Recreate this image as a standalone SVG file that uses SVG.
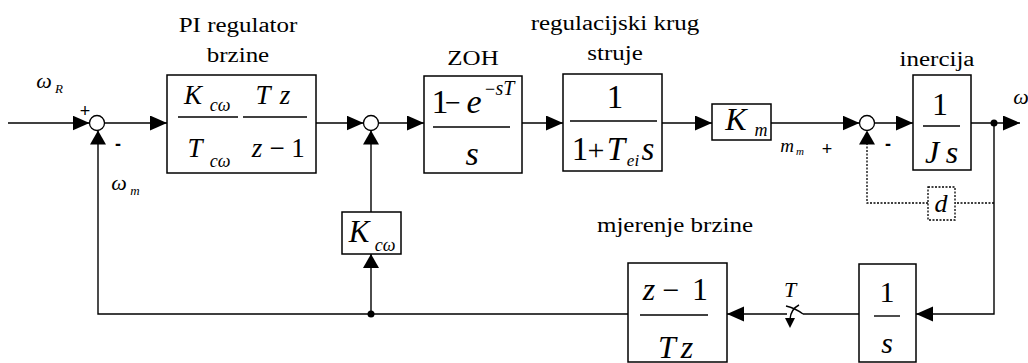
<svg xmlns="http://www.w3.org/2000/svg" width="1028" height="363" viewBox="0 0 1028 363">
<defs>
<marker id="ah" markerUnits="userSpaceOnUse" markerWidth="18" markerHeight="16" refX="17" refY="7.5" orient="auto"><path d="M0,0 L17,7.5 L0,15 Z" fill="#000" stroke="none"/></marker>
<marker id="av" markerUnits="userSpaceOnUse" markerWidth="15" markerHeight="17" refX="14" refY="8" orient="auto"><path d="M0,0 L14,8 L0,16 Z" fill="#000" stroke="none"/></marker>
</defs>
<rect width="1028" height="363" fill="#fff"/>

<g id="connectors" fill="none" stroke="#000" stroke-width="1.4">
<path d="M8,123 H89.5" marker-end="url(#ah)"/>
<path d="M104.5,123 H167" marker-end="url(#ah)"/>
<path d="M316,123 H363.5" marker-end="url(#ah)"/>
<path d="M378.5,123 H424" marker-end="url(#ah)"/>
<path d="M522,123 H563" marker-end="url(#ah)"/>
<path d="M662,123 H712" marker-end="url(#ah)"/>
<path d="M771,123 H859.5" marker-end="url(#ah)"/>
<path d="M874.5,123 H913" marker-end="url(#ah)"/>
<path d="M971,123 H1020" marker-end="url(#ah)"/>
<path d="M994,123 V314 H916" marker-end="url(#ah)"/>
<path d="M859,314 H803"/>
<path d="M787,314 H727" marker-end="url(#ah)"/>
<path d="M628,314 H98 V130.5" marker-end="url(#av)"/>
<path d="M371,314 V254" marker-end="url(#av)"/>
<path d="M371,212 V130.5" marker-end="url(#av)"/>
<path d="M994,203 H955" stroke-width="1.3" stroke-dasharray="2 1.5"/>
<path d="M928,203 H867 V130.5" stroke-width="1.3" stroke-dasharray="2 1.5" marker-end="url(#av)"/>
<path d="M786,306 Q795,308 803,314"/>
<path d="M799,305 Q791,309 790,319"/>
<path d="M785,318 L795,318 L790,328 Z" fill="#000" stroke="none"/>
<circle cx="994" cy="123" r="3.5" fill="#000" stroke="none"/>
<circle cx="371" cy="314" r="3.5" fill="#000" stroke="none"/>
</g>

<g fill="#fff" stroke="#000" stroke-width="1.3">
<g id="sum1"><circle cx="97" cy="123" r="7.5"/></g>
<g id="sum2"><circle cx="371" cy="123" r="7.5"/></g>
<g id="sum3"><circle cx="867" cy="123" r="7.5"/></g>
</g>

<g id="labels-left">
<text font-family="Times New Roman" font-style="italic" font-size="22" text-anchor="middle" x="44" y="88">ω</text>
<text font-family="Times New Roman" font-style="italic" font-size="13" text-anchor="middle" x="59" y="93">R</text>
<text font-family="Arial" font-size="18" text-anchor="middle" x="85" y="117">+</text>
<text font-family="Arial" font-size="18" font-weight="bold" text-anchor="middle" x="118" y="150">-</text>
<text font-family="Times New Roman" font-style="italic" font-size="22" text-anchor="middle" x="119" y="190">ω</text>
<text font-family="Times New Roman" font-style="italic" font-size="13" text-anchor="middle" x="135" y="195">m</text>
</g>

<g id="pi">
<text font-family="Times New Roman" font-size="20" text-anchor="middle" transform="translate(238 32) scale(1.25 1)">PI regulator</text>
<text font-family="Times New Roman" font-size="20" text-anchor="middle" transform="translate(238 62) scale(1.25 1)">brzine</text>
<rect x="167" y="75" width="149" height="98" fill="#fff" stroke="#000" stroke-width="1.5"/>
<text font-family="Times New Roman" font-style="italic" font-size="27" text-anchor="middle" x="193" y="104">K</text>
<text font-family="Times New Roman" font-style="italic" font-size="18" text-anchor="middle" x="220" y="111">cω</text>
<line x1="178" y1="117" x2="238" y2="117" stroke="#000" stroke-width="1.4"/>
<text font-family="Times New Roman" font-style="italic" font-size="27" text-anchor="middle" x="195" y="157">T</text>
<text font-family="Times New Roman" font-style="italic" font-size="18" text-anchor="middle" x="220" y="167">cω</text>
<text font-family="Times New Roman" font-style="italic" font-size="27" text-anchor="middle" x="263" y="104">T</text>
<text font-family="Times New Roman" font-style="italic" font-size="27" text-anchor="middle" x="285" y="104">z</text>
<line x1="243" y1="117" x2="307" y2="117" stroke="#000" stroke-width="1.4"/>
<text font-family="Times New Roman" font-style="italic" font-size="27" text-anchor="middle" x="257" y="157">z</text>
<text font-family="Times New Roman" font-size="27" text-anchor="middle" x="277" y="157">−</text>
<text font-family="Times New Roman" font-size="27" text-anchor="middle" x="298" y="157">1</text>
</g>

<g id="kcw">
<rect x="342" y="212" width="59" height="42" fill="#fff" stroke="#000" stroke-width="1.5"/>
<text font-family="Times New Roman" font-style="italic" font-size="31" text-anchor="middle" x="359" y="242">K</text>
<text font-family="Times New Roman" font-style="italic" font-size="18" text-anchor="middle" x="385" y="251">cω</text>
</g>

<g id="zoh">
<text font-family="Times New Roman" font-size="20" text-anchor="middle" transform="translate(473 65) scale(1.25 1)">ZOH</text>
<rect x="424" y="76" width="98" height="97" fill="#fff" stroke="#000" stroke-width="1.5"/>
<text font-family="Times New Roman" font-size="34" text-anchor="middle" x="440" y="113">1</text>
<text font-family="Times New Roman" font-size="28" text-anchor="middle" x="453" y="112">−</text>
<text font-family="Times New Roman" font-style="italic" font-size="34" text-anchor="middle" x="474" y="113">e</text>
<text font-family="Times New Roman" font-size="18" text-anchor="middle" x="490" y="95">−</text>
<text font-family="Times New Roman" font-style="italic" font-size="20" text-anchor="middle" x="505" y="95">sT</text>
<line x1="433" y1="127" x2="510" y2="127" stroke="#000" stroke-width="1.4"/>
<text font-family="Times New Roman" font-style="italic" font-size="34" text-anchor="middle" x="472" y="165">s</text>
</g>

<g id="current">
<text font-family="Times New Roman" font-size="20" text-anchor="middle" transform="translate(615 30) scale(1.25 1)">regulacijski krug</text>
<text font-family="Times New Roman" font-size="20" text-anchor="middle" transform="translate(615 60) scale(1.25 1)">struje</text>
<rect x="563" y="74" width="99" height="97" fill="#fff" stroke="#000" stroke-width="1.5"/>
<text font-family="Times New Roman" font-size="33" text-anchor="middle" x="615" y="108">1</text>
<line x1="570" y1="121" x2="657" y2="121" stroke="#000" stroke-width="1.4"/>
<text font-family="Times New Roman" font-size="33" text-anchor="middle" x="580" y="160">1</text>
<text font-family="Times New Roman" font-size="30" text-anchor="middle" x="596" y="160">+</text>
<text font-family="Times New Roman" font-style="italic" font-size="33" text-anchor="middle" x="616" y="160">T</text>
<text font-family="Times New Roman" font-style="italic" font-size="17" text-anchor="middle" x="633" y="166">ei</text>
<text font-family="Times New Roman" font-style="italic" font-size="33" text-anchor="middle" x="648" y="160">s</text>
</g>

<g id="km">
<rect x="712" y="104" width="59" height="36" fill="#fff" stroke="#000" stroke-width="1.5"/>
<text font-family="Times New Roman" font-style="italic" font-size="32" text-anchor="middle" x="736" y="130">K</text>
<text font-family="Times New Roman" font-style="italic" font-size="18" text-anchor="middle" x="761" y="136">m</text>
<text font-family="Times New Roman" font-style="italic" font-size="19" text-anchor="middle" x="787" y="152">m</text>
<text font-family="Times New Roman" font-style="italic" font-size="11" text-anchor="middle" x="800" y="155">m</text>
<text font-family="Arial" font-size="18" text-anchor="middle" x="827" y="155">+</text>
<text font-family="Arial" font-size="18" font-weight="bold" text-anchor="middle" x="888" y="150">-</text>
</g>

<g id="inertia">
<text font-family="Times New Roman" font-size="20" text-anchor="middle" transform="translate(937 66) scale(1.25 1)">inercija</text>
<rect x="913" y="75" width="58" height="95" fill="#fff" stroke="#000" stroke-width="1.5"/>
<text font-family="Times New Roman" font-size="32" text-anchor="middle" x="940" y="115">1</text>
<line x1="923" y1="126" x2="960" y2="126" stroke="#000" stroke-width="1.4"/>
<text font-family="Times New Roman" font-style="italic" font-size="32" text-anchor="middle" x="932" y="163">J</text>
<text font-family="Times New Roman" font-style="italic" font-size="32" text-anchor="middle" x="952" y="163">s</text>
<text font-family="Times New Roman" font-style="italic" font-size="22" text-anchor="middle" x="1021" y="104">ω</text>
</g>

<g id="d">
<rect x="928" y="187" width="27" height="33" fill="#fff" stroke="#000" stroke-width="1.3" stroke-dasharray="2 1.5"/>
<text font-family="Times New Roman" font-style="italic" font-size="26" text-anchor="middle" x="941" y="212">d</text>
</g>

<g id="meas">
<text font-family="Times New Roman" font-size="20" text-anchor="middle" transform="translate(675 232) scale(1.25 1)">mjerenje brzine</text>
<rect x="628" y="263" width="99" height="99" fill="#fff" stroke="#000" stroke-width="1.5"/>
<text font-family="Times New Roman" font-style="italic" font-size="32" text-anchor="middle" x="649" y="300">z</text>
<text font-family="Times New Roman" font-size="30" text-anchor="middle" x="671" y="300">−</text>
<text font-family="Times New Roman" font-size="32" text-anchor="middle" x="700" y="300">1</text>
<line x1="640" y1="315" x2="708" y2="315" stroke="#000" stroke-width="1.4"/>
<text font-family="Times New Roman" font-style="italic" font-size="32" text-anchor="middle" x="667" y="358">T</text>
<text font-family="Times New Roman" font-style="italic" font-size="32" text-anchor="middle" x="687" y="358">z</text>
</g>

<g id="integ">
<rect x="859" y="264" width="57" height="98" fill="#fff" stroke="#000" stroke-width="1.5"/>
<text font-family="Times New Roman" font-size="30" text-anchor="middle" x="887" y="302">1</text>
<line x1="874" y1="316" x2="900" y2="316" stroke="#000" stroke-width="1.4"/>
<text font-family="Times New Roman" font-style="italic" font-size="30" text-anchor="middle" x="887" y="353">s</text>
</g>

<g id="switch-label">
<text font-family="Times New Roman" font-style="italic" font-size="22" text-anchor="middle" x="790" y="297">T</text>
</g>
</svg>
